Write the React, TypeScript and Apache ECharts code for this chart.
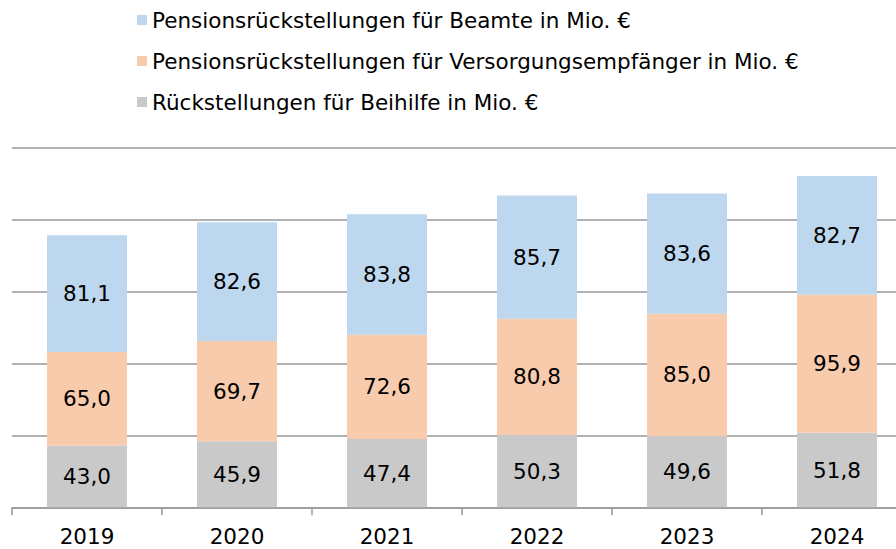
import React, { useEffect, useRef } from "react";
import * as echarts from "echarts";

const years = ["2019", "2020", "2021", "2022", "2023", "2024"];
const beamte = [81.1, 82.6, 83.8, 85.7, 83.6, 82.7];
const versorgung = [65.0, 69.7, 72.6, 80.8, 85.0, 95.9];
const beihilfe = [43.0, 45.9, 47.4, 50.3, 49.6, 51.8];

const names = [
  "Pensionsrückstellungen für Beamte in Mio. €",
  "Pensionsrückstellungen für Versorgungsempfänger in Mio. €",
  "Rückstellungen für Beihilfe in Mio. €",
];
const colors = ["#BDD7EE", "#F8CBAD", "#C9C9C9"];

const FONT = "'DejaVu Sans', Verdana, sans-serif";
const FS = 21.5;

export default function App() {
  const ref = useRef<HTMLDivElement>(null);
  useEffect(() => {
    if (!ref.current) return;
    const chart = echarts.init(ref.current, undefined, { renderer: "svg" });
    const label = {
      show: true,
      position: "inside",
      color: "#000",
      fontSize: FS,
      fontFamily: FONT,
      formatter: (p: any) => Number(p.value).toFixed(1).replace(".", ","),
    };
    const mk = (name: string, data: number[], color: string) => ({
      name,
      type: "bar",
      stack: "total",
      data,
      barWidth: 80,
      itemStyle: { color },
      label,
    });
    chart.setOption({
      animation: false,
      textStyle: { fontFamily: FONT },
      legend: {
        orient: "vertical",
        left: 132,
        top: 4,
        itemWidth: 10,
        itemHeight: 10,
        itemGap: 19,
        icon: "rect",
        textStyle: { fontSize: FS, color: "#000", fontFamily: FONT },
        data: names,
      },
      grid: { left: 12, right: 0, top: 147.7, bottom: 41.7, containLabel: false },
      xAxis: {
        type: "category",
        data: years,
        boundaryGap: true,
        axisLine: { lineStyle: { color: "#999", width: 1.5 } },
        axisTick: { show: true, length: 8, lineStyle: { color: "#999", width: 1.5 } },
        axisLabel: { fontSize: FS, color: "#000", margin: 18, fontFamily: FONT },
      },
      yAxis: {
        type: "value",
        min: 0,
        max: 250,
        interval: 50,
        axisLabel: { show: false },
        axisLine: { show: false },
        axisTick: { show: false },
        splitLine: { lineStyle: { color: "#999", width: 1.5 } },
      },
      series: [
        mk(names[2], beihilfe, colors[2]),
        mk(names[1], versorgung, colors[1]),
        mk(names[0], beamte, colors[0]),
      ],
    });
    return () => chart.dispose();
  }, []);
  return (
    <div
      style={{ position: "absolute", left: 0, top: 0, width: 896, height: 549, overflow: "hidden" }}
    >
      <div ref={ref} style={{ width: 912, height: 549 }} />
    </div>
  );
}
